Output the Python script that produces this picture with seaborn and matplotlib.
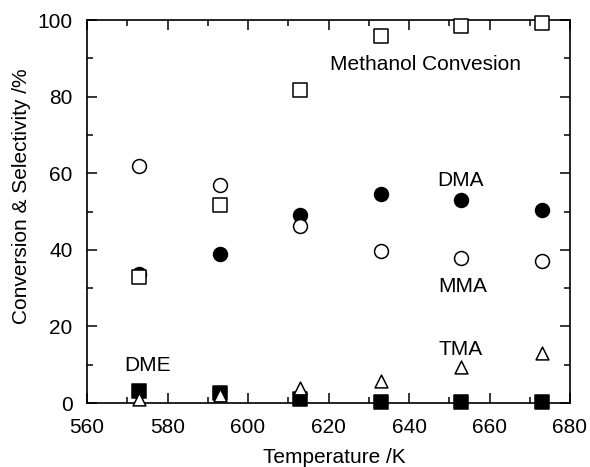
import pandas as pd
import seaborn as sns
import matplotlib.pyplot as plt
from matplotlib.ticker import MultipleLocator

# Temperatura dhe vlerat e lexuara nga grafiku
temperatura = [573, 593, 613, 633, 653, 673]
konvertimi_metanol = [32.8, 51.8, 81.7, 95.8, 98.4, 99.2]
mma = [62.0, 56.9, 46.1, 39.8, 37.8, 37.0]
dma = [33.8, 39.0, 49.2, 54.5, 52.9, 50.3]
tma = [1.0, 2.0, 4.0, 5.7, 9.4, 13.0]
dme = [3.1, 2.5, 1.0, 0.3, 0.3, 0.3]

sns.set_style("ticks")
plt.rcParams['font.family'] = ['Liberation Sans', 'DejaVu Sans']
plt.rcParams['text.color'] = 'black'
plt.rcParams['axes.labelcolor'] = 'black'

fig = plt.figure(figsize=(5.9, 4.67), dpi=100)
ax = fig.add_axes([0.1475, 0.137, 0.8186, 0.820])

# (seria, shenja, e mbushur, madhesia)
seri = [
    (dma, "o", True, 100),
    (konvertimi_metanol, "s", False, 95),
    (mma, "o", False, 100),
    (dme, "s", True, 95),
    (tma, "^", False, 85),
]
for vlerat, shenja, mbushur, s in seri:
    df = pd.DataFrame({"T": temperatura, "v": vlerat})
    sns.scatterplot(data=df, x="T", y="v", marker=shenja, s=s,
                    color="black" if mbushur else "white",
                    edgecolor="black", linewidth=1.1, ax=ax, zorder=3,
                    clip_on=False)

# Etiketat e serive
fs = 15
ax.text(620.3, 88.5, "Methanol Convesion", fontsize=fs, va="center", ha="left")
ax.text(652.8, 58.2, "DMA", fontsize=fs, va="center", ha="center")
ax.text(653.3, 30.3, "MMA", fontsize=fs, va="center", ha="center")
ax.text(652.8, 14.1, "TMA", fontsize=fs, va="center", ha="center")
ax.text(575.0, 9.8, "DME", fontsize=fs, va="center", ha="center")

ax.set_xlim(560, 680)
ax.set_ylim(0, 100)
ax.xaxis.set_major_locator(MultipleLocator(20))
ax.xaxis.set_minor_locator(MultipleLocator(10))
ax.yaxis.set_major_locator(MultipleLocator(20))
ax.yaxis.set_minor_locator(MultipleLocator(10))
ax.tick_params(which="both", direction="in", top=True, right=True,
               labelsize=fs, width=1.1, colors="black")
ax.tick_params(which="major", length=7)
ax.tick_params(which="minor", length=4)
ax.tick_params(axis="x", which="major", pad=10.5)
ax.tick_params(axis="y", which="major", pad=10.5)
for sp in ax.spines.values():
    sp.set_linewidth(1.2)
    sp.set_color("black")

ax.set_xlabel("Temperature /K", fontsize=fs)
ax.set_ylabel("Conversion & Selectivity /%", fontsize=fs)
ax.xaxis.set_label_coords(0.512, -0.1175)
ax.yaxis.set_label_coords(-0.116, 0.54)

fig.savefig("out.png", dpi=100)
